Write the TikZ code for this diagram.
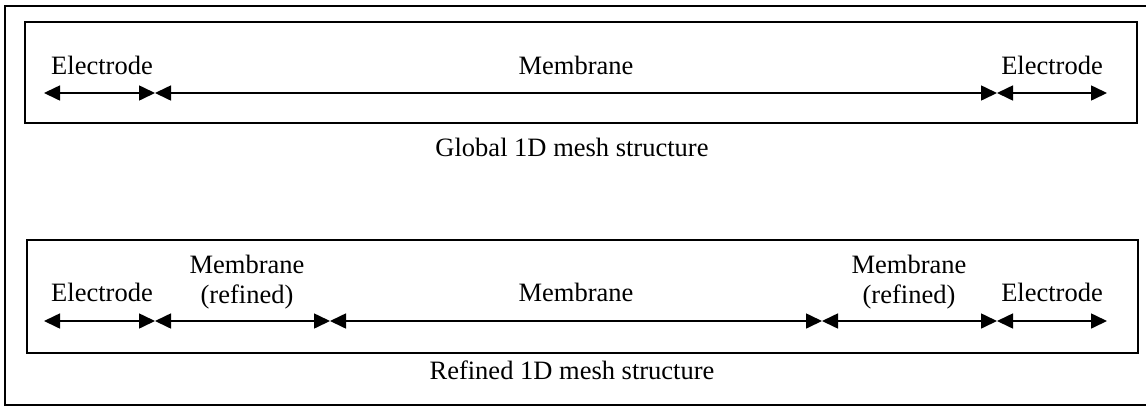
\documentclass[tikz,border=0pt]{standalone}
\usepackage{fontspec}
\setmainfont{Liberation Serif}
\usetikzlibrary{arrows.meta}

\begin{document}
\begin{tikzpicture}[x=1pt, y=-1pt,
    font=\fontsize{26.5}{30}\selectfont,
    span/.style={draw, line width=1.6pt, {Triangle[length=16pt, width=15pt]}-{Triangle[length=16pt, width=15pt]}},
    frame/.style={draw, line width=2pt},
    label/.style={inner sep=0pt, align=center}]
    \useasboundingbox (0,0) rectangle (1146,408);
    % Outer frame (open on the right)
    \path [draw, line width=2.5pt] (1146,6) -- (5,6) -- (5,405) -- (1146,405);
    % Boxes
    \path [frame] (25,22) rectangle (1137,123);
    \path [frame] (27,240) rectangle (1138,353);
    % Global mesh
    \coordinate (G0) at (44,93);
    \coordinate (G1) at (155,93);
    \coordinate (G2) at (997,93);
    \coordinate (G3) at (1107,93);
    \path [span] (G0) -- (G1);
    \path [span] (G1) -- (G2);
    \path [span] (G2) -- (G3);
    \node [label] (GE1) at (102,65) {Electrode};
    \node [label] (GM) at (576,65) {Membrane};
    \node [label] (GE2) at (1052,65) {Electrode};
    \node [label] (GT) at (572,147) {Global 1D mesh structure};
    % Refined mesh
    \coordinate (R0) at (44,321);
    \coordinate (R1) at (155,321);
    \coordinate (R2) at (330,321);
    \coordinate (R3) at (822,321);
    \coordinate (R4) at (997,321);
    \coordinate (R5) at (1107,321);
    \path [span] (R0) -- (R1);
    \path [span] (R1) -- (R2);
    \path [span] (R2) -- (R3);
    \path [span] (R3) -- (R4);
    \path [span] (R4) -- (R5);
    \node [label] (RE1) at (102,292) {Electrode};
    \node [label] (RR1) at (247,282) {Membrane\\(refined)};
    \node [label] (RM) at (576,292) {Membrane};
    \node [label] (RR2) at (909,282) {Membrane\\(refined)};
    \node [label] (RE2) at (1052,292) {Electrode};
    \node [label] (RT) at (572,370) {Refined 1D mesh structure};
\end{tikzpicture}
\end{document}
